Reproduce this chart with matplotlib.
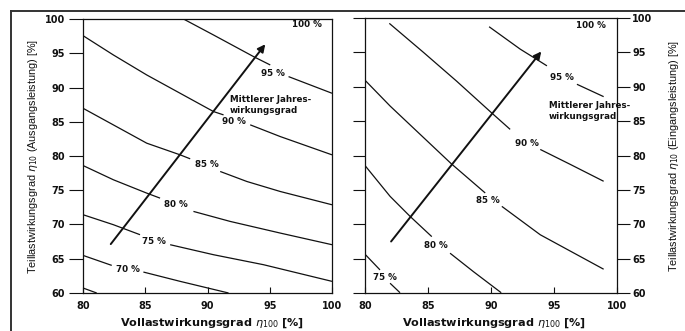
import numpy as np
import matplotlib
matplotlib.use("Agg")
import matplotlib.pyplot as plt
from matplotlib.lines import Line2D
from matplotlib import font_manager

# Axis ticks (efficiencies in %)
x_ticks = [80, 85, 90, 95, 100]
y_ticks = [60, 65, 70, 75, 80, 85, 90, 95, 100]

# Iso-lines of the mean annual efficiency (x = full-load, y = part-load efficiency).
# None marks the break in a line where its level label sits.
# Left diagram: part-load efficiency referred to output power
left_levels = [95, 90, 85, 80, 75, 70, 65]
left_95 = [(88.07, 100.0), (90.48, 97.67), (93.70, 94.51), (95.04, 93.29), None,
           (96.51, 91.59), (100.0, 89.16)]
left_90 = [(80.0, 97.57), (82.44, 94.75), (85.12, 91.83), (87.80, 89.16), (90.48, 86.49),
           (91.29, 86.0), None, (93.43, 84.55), (95.84, 82.84), (100.0, 80.17)]
left_85 = [(80.0, 86.97), (82.44, 84.54), (85.12, 81.87), (87.80, 80.17), (88.61, 79.59), None,
           (91.02, 77.74), (93.16, 76.28), (95.84, 74.82), (100.0, 72.88)]
left_80 = [(80.0, 78.61), (82.44, 76.53), (85.12, 74.58), (86.19, 73.85), None,
           (88.87, 71.91), (91.82, 70.45), (95.84, 68.75), (100.0, 67.05)]
left_75 = [(80.0, 71.43), (82.44, 69.97), (84.58, 68.51), None,
           (87.0, 67.05), (90.48, 65.59), (94.50, 64.13), (100.0, 61.70)]
left_70 = [(80.0, 65.49), (82.31, 64.03), None,
           (84.85, 63.06), (87.80, 61.70), (91.69, 60.0)]
left_65 = [(80.0, 60.73), (81.1, 60.0)]
left_curves = [left_95, left_90, left_85, left_80, left_75, left_70, left_65]
left_label_x = [95.23, 92.09, 89.95, 87.45, 85.71, 83.59, None]
left_label_y = [92.08, 85.03, 78.81, 72.98, 67.54, 63.40, None]

# Right diagram: part-load efficiency referred to input power
right_levels = [95, 90, 85, 80, 75]
right_95 = [(89.85, 98.73), (92.32, 95.47), (93.38, 94.26), (94.44, 93.04), None,
            (96.82, 90.36), (98.94, 88.56)]
right_90 = [(81.93, 99.22), (84.64, 95.0), (87.28, 90.8), (90.05, 86.2), (91.52, 83.8), None,
            (93.91, 80.88), (96.3, 78.7), (98.94, 76.25)]
right_85 = [(80.0, 90.95), (81.99, 87.2), (86.85, 78.8), (89.54, 74.55), None,
            (90.86, 72.6), (93.91, 68.47), (98.94, 63.46)]
right_80 = [(80.0, 78.54), (81.99, 74.06), (83.58, 71.14), (85.3, 68.2), None,
            (86.75, 65.79), (88.61, 63.1), (90.81, 60.04)]
right_75 = [(80.0, 65.64), (81.19, 63.36), None, (81.99, 61.42), (82.78, 60.04)]
right_curves = [right_95, right_90, right_85, right_80, right_75]
right_label_x = [95.63, 92.85, 89.72, 85.62, 81.59]
right_label_y = [91.34, 81.75, 73.47, 66.86, 62.29]

# Direction of increasing mean annual efficiency
left_arrow = [(82.23, 67.14), (94.64, 96.31)]
right_arrow = [(82.07, 67.49), (93.99, 95.13)]

# Corner level and arrow caption
corner_level = 100
left_corner_pos = (97.99, 99.13)
right_corner_pos = (97.93, 98.88)
caption = "Mittlerer Jahres-\nwirkungsgrad"
left_caption_pos = (91.82, 87.46)
right_caption_pos = (94.57, 86.47)

x_label = r"Vollastwirkungsgrad $\eta_{100}$ [%]"
left_y_label = r"Teillastwirkungsgrad $\eta_{10}$ (Ausgangsleistung) [%]"
right_y_label = r"Teillastwirkungsgrad $\eta_{10}$ (Eingangsleistung) [%]"

installed = {f.name for f in font_manager.fontManager.ttflist}
narrow = "Liberation Sans Narrow" if "Liberation Sans Narrow" in installed else "Liberation Sans"

plt.rcParams["font.family"] = ["DejaVu Sans"]
plt.rcParams["mathtext.fontset"] = "dejavusans"

W, H = 685, 331
fig = plt.figure(figsize=(W / 100, H / 100), dpi=100)
fig.patch.set_facecolor("white")

ax_l = fig.add_axes([83 / W, 1 - 293 / H, 249 / W, 274 / H])
ax_r = fig.add_axes([365 / W, 1 - 293 / H, 252 / W, 275 / H])

ink = "#111111"


def draw_line(ax, pts):
    xs = [np.nan if p is None else p[0] for p in pts]
    ys = [np.nan if p is None else p[1] for p in pts]
    ax.plot(xs, ys, color=ink, lw=0.9, solid_capstyle="butt")


def setup(ax, side):
    ax.set_xlim(80, 100)
    ax.set_ylim(60, 100)
    ax.set_xticks(x_ticks)
    ax.set_yticks(y_ticks)
    for sp in ax.spines.values():
        sp.set_linewidth(0.9)
        sp.set_color(ink)
    ax.tick_params(axis="x", direction="in", length=4, width=0.8, pad=6,
                   labelsize=7, colors=ink)
    for lab in ax.get_xticklabels():
        lab.set_fontweight("bold")
    if side == "left":
        ax.tick_params(axis="y", direction="out", length=10, width=0.8, pad=3,
                       labelsize=7, colors=ink)
    else:
        ax.tick_params(axis="y", which="both", left=True, right=True,
                       labelleft=False, labelright=True, direction="out",
                       length=9, width=0.8, pad=2, labelsize=7, colors=ink)
    for lab in ax.get_yticklabels():
        lab.set_fontweight("bold")
    ax.set_xlabel(x_label, fontsize=8.1, fontweight="bold", color=ink,
                  ha="center", va="center")


def panel(ax, levels, curves, lx, ly, arrow, corner_pos, caption_pos):
    for lev, pts, x, y in zip(levels, curves, lx, ly):
        draw_line(ax, pts)
        if x is not None:
            ax.text(x, y, f"{lev} %", fontsize=6.3, fontweight="bold",
                    ha="center", va="center", color=ink)
    ax.annotate("", xy=arrow[1], xytext=arrow[0],
                arrowprops=dict(arrowstyle="-|>", lw=1.4, color=ink,
                                mutation_scale=11, shrinkA=0, shrinkB=0))
    ax.text(corner_pos[0], corner_pos[1], f"{corner_level} %", fontsize=6.3,
            fontweight="bold", ha="center", va="center", color=ink)
    ax.text(caption_pos[0], caption_pos[1], caption, fontsize=6.3,
            fontweight="bold", ha="left", va="center", linespacing=1.35,
            color=ink)


setup(ax_l, "left")
setup(ax_r, "right")
panel(ax_l, left_levels, left_curves, left_label_x, left_label_y, left_arrow,
      left_corner_pos, left_caption_pos)
panel(ax_r, right_levels, right_curves, right_label_x, right_label_y,
      right_arrow, right_corner_pos, right_caption_pos)

ax_l.xaxis.set_label_coords(0.518, -0.11)
ax_r.xaxis.set_label_coords(0.51, -0.11)

ax_l.set_ylabel(left_y_label, fontsize=7.8, family=[narrow, "DejaVu Sans"],
                color=ink, ha="center", va="center")
ax_l.yaxis.set_label_coords(-0.2, 0.5)
ax_r.yaxis.set_label_position("right")
ax_r.set_ylabel(right_y_label, fontsize=7.8, family=[narrow, "DejaVu Sans"],
                color=ink, rotation=90, ha="center", va="center")
ax_r.yaxis.set_label_coords(1.225, 0.5)

# Frame around the figure (top and left edges)
fig.add_artist(Line2D([11 / W, 1], [1 - 10.5 / H] * 2, transform=fig.transFigure,
                      color="#333333", lw=1.4))
fig.add_artist(Line2D([11 / W] * 2, [0, 1 - 10.5 / H], transform=fig.transFigure,
                      color="#333333", lw=1.4))

fig.savefig("out.png", dpi=100, facecolor="white")
